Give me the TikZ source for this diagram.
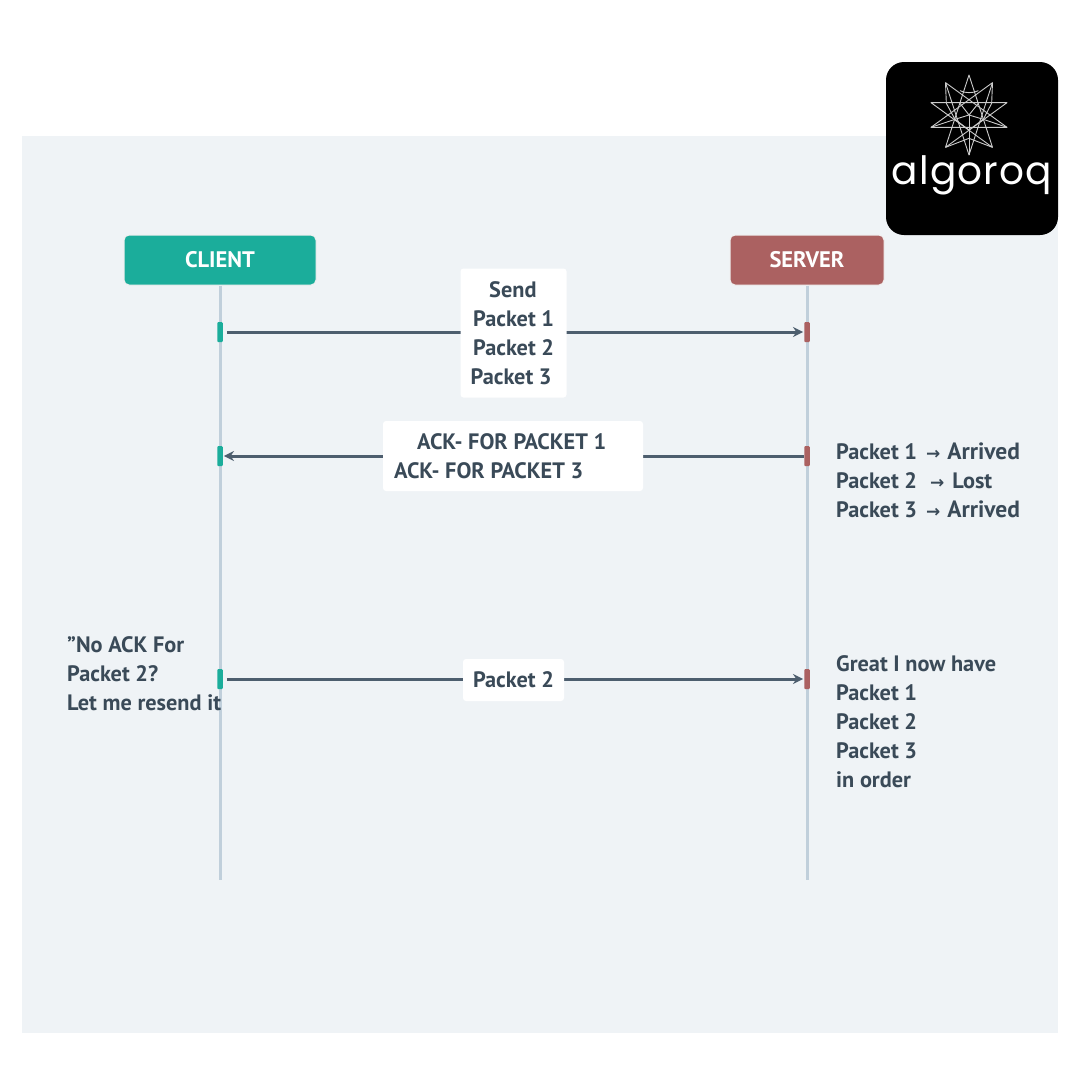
\documentclass[tikz,border=0pt]{standalone}
\usepackage{fontspec}
\setmainfont{PT Sans}
\newfontfamily\logofont[LetterSpace=3]{Poppins}
\newfontfamily\arrowfont{DejaVu Sans}
\usetikzlibrary{arrows.meta}
\definecolor{panel}{HTML}{EFF3F6}
\definecolor{teal}{HTML}{1BAD9B}
\definecolor{rose}{HTML}{AB6161}
\definecolor{ink}{HTML}{3A4A58}
\definecolor{lifeline}{HTML}{C0CFDB}
\definecolor{msg}{HTML}{4D5E6E}
\newcommand{\arw}{{\arrowfont\fontsize{17}{17}\selectfont →}}
\tikzset{
  header/.style={rounded corners=5pt,minimum height=50pt,inner sep=0pt,text=white,font=\bfseries\fontsize{22.5}{22.5}\selectfont},
  shadowbox/.style={draw=black!6,line width=1pt},
  lifeln/.style={draw=lifeline,line width=3pt},
  message/.style={draw=msg,line width=3pt,-{Stealth[length=10pt,width=10pt]}},
  tick/.style={rounded corners=1pt,minimum width=5.5pt,minimum height=20pt,inner sep=0pt},
  lbl/.style={text=ink,font=\bfseries\fontsize{22.3}{29}\selectfont,inner sep=0pt},
  lblbox/.style={fill=white,rounded corners=3pt,inner sep=0pt},
  starline/.style={draw=white!80!black,line width=.9pt,line join=round}
}
\begin{document}
\begin{tikzpicture}[x=1pt,y=-1pt]
\useasboundingbox (0,0) rectangle (1080,1080);
\fill[white] (0,0) rectangle (1080,1080);
\fill[panel] (22,136) rectangle (1058,1033);
% headers and lifelines
\node[header,shadowbox,fill=teal,minimum width=192pt] (client) at (220,260) {CLIENT};
\node[header,shadowbox,fill=rose,minimum width=154pt] (server) at (807,260) {SERVER};
\coordinate (cend) at (220,880);
\coordinate (send) at (807,880);
\draw[lifeln] (client.south) -- (cend);
\draw[lifeln] (server.south) -- (send);
% activation ticks
\foreach \n/\y in {a/332,b/456,c/679}{
  \node[tick,fill=teal] (c\n) at (220,\y) {};
  \node[tick,fill=rose] (s\n) at (807,\y) {};
}
% messages
\draw[message] ([xshift=4pt]ca.east) -- ([xshift=-1pt]sa.west);
\draw[message] (sb.west) -- ([xshift=1pt]cb.east);
\draw[message] ([xshift=4pt]cc.east) -- ([xshift=-1pt]sc.west);
% label boxes
\node[lblbox,minimum width=106pt,minimum height=129pt] (m1) at (513.5,333) {};
\node[lbl,anchor=base west] (m1a) at (489,297) {Send};
\node[lbl,anchor=base west] (m1b) at (473,326) {Packet 1};
\node[lbl,anchor=base west] (m1c) at (473,355) {Packet 2};
\node[lbl,anchor=base west] (m1d) at (470.5,384) {Packet 3};
\node[lblbox,minimum width=260pt,minimum height=70pt] (m2) at (513,456) {};
\node[lbl,anchor=base west] (m2a) at (417,449) {ACK- FOR PACKET 1};
\node[lbl,anchor=base west] (m2b) at (394,478) {ACK- FOR PACKET 3};
\node[lblbox,minimum width=101pt,minimum height=42pt,text=ink,font=\bfseries\fontsize{22.3}{29}\selectfont] (m3) at (513.5,680) {Packet 2};
% side notes
\node[lbl,anchor=base west] (p1) at (836,459) {Packet 1\hspace{9pt}\arw\hspace{7pt}\fontsize{23.5}{29}\selectfont Arrived};
\node[lbl,anchor=base west] (p2) at (836,488) {Packet 2\hspace{13pt}\arw\hspace{8pt}Lost};
\node[lbl,anchor=base west] (p3) at (836,517) {Packet 3\hspace{9pt}\arw\hspace{7pt}\fontsize{23.5}{29}\selectfont Arrived};
\node[lbl,anchor=north west,align=left] (n1) at (67,636) {"No ACK For\\Packet 2?\\Let me resend it};
\node[lbl,anchor=north west,align=left] (n2) at (836,655) {Great I now have\\Packet 1\\Packet 2\\Packet 3\\in order};
% logo
\fill[black,rounded corners=18pt] (886,62) rectangle (1058,235);
\begin{scope}[shift={(925,70)},x=.3333pt,y=-.3333pt]
  \coordinate (c0) at (132,135);
  \foreach \i in {0,...,9}{
    \coordinate (t\i) at ({132+120*sin(\i*36)},{135-120*cos(\i*36)});
  }
  \draw[starline] (t0)--(t4)--(t8)--(t2)--(t6)--cycle;
  \draw[starline] (t1)--(t5)--(t9)--(t3)--(t7)--cycle;
  \draw[starline] (c0)--(t5);
  \draw[starline] (c0)--(105,100) (c0)--(160,100) (c0)--(90,148) (c0)--(175,148);
  \draw[starline] (t9)--(64,100)--(90,148)--(132,180)--(175,148)--(200,100)--(t1);
  \draw[starline] (105,62) .. controls (120,70) and (145,70) .. (160,62);
  \draw[starline] (90,148)--(t7) (175,148)--(t3);
  \draw[starline] (132,205)--(t6) (132,205)--(t4);
\end{scope}
\node[text=white,inner sep=0pt,anchor=base,font=\logofont\fontsize{39}{39}\selectfont] (logo) at (972,184) {algoroq};
\end{tikzpicture}
\end{document}
